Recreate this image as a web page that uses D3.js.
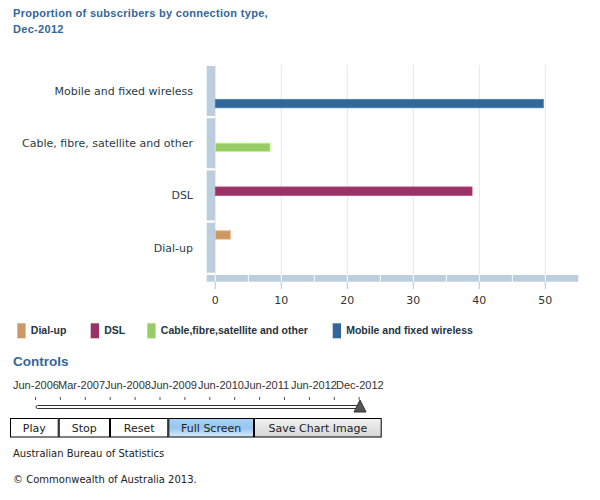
<!DOCTYPE html>
<html><head><meta charset="utf-8">
<script src="https://cdn.jsdelivr.net/npm/d3@7"></script>
<style>
body{margin:0;background:#fff;}
svg{display:block;}
</style></head>
<body>
<svg id="chart" width="600" height="500"></svg>
<script>
// ---- data ----
const titleLines = ["Proportion of subscribers by connection type,", "Dec-2012"];
const categories = ["Mobile and fixed wireless", "Cable, fibre, satellite and other", "DSL", "Dial-up"];
const series = ["Dial-up", "DSL", "Cable,fibre,satellite and other", "Mobile and fixed wireless"];
const seriesCategory = ["Dial-up", "DSL", "Cable, fibre, satellite and other", "Mobile and fixed wireless"];
const values = [2.3, 38.9, 8.3, 49.7];
const colors = ["#cc9966", "#993366", "#99cc66", "#336699"];
const xTicks = [0, 10, 20, 30, 40, 50];
const timeline = ["Jun-2006", "Mar-2007", "Jun-2008", "Jun-2009", "Jun-2010", "Jun-2011", "Jun-2012", "Dec-2012"];
const buttons = ["Play", "Stop", "Reset", "Full Screen", "Save Chart Image"];

const svg = d3.select("#chart");
const FONT = "'DejaVu Sans', Verdana, sans-serif";
const FONT2 = "'Liberation Sans', Arial, sans-serif";

// title
svg.selectAll("text.title").data(titleLines).join("text")
  .attr("x", 13).attr("y", (d, i) => 17 + i * 16)
  .attr("font-family", FONT2).attr("font-weight", "bold").attr("font-size", 11)
  .attr("letter-spacing", 0.3)
  .attr("fill", "#336699").text(d => d);

// scales
const x = d3.scaleLinear().domain([0, 55]).range([215.3, 578.3]);
const y = d3.scaleBand().domain(categories).range([66, 275]);
const sub = d3.scaleBand().domain(series).range([8, 8 + 4 * 8.45]);

// grid
svg.append("g").selectAll("line").data(xTicks).join("line")
  .attr("x1", d => x(d)).attr("x2", d => x(d))
  .attr("y1", 65).attr("y2", 275).attr("stroke", "#e6e6e6").attr("stroke-width", 1);

// left band segments
svg.append("g").selectAll("rect").data(categories).join("rect")
  .attr("x", 206.7).attr("width", 8.3)
  .attr("y", d => y(d)).attr("height", y.step() - 2.3)
  .attr("fill", "#bccddd");

// bottom axis band
svg.append("rect").attr("x", 206.7).attr("y", 275).attr("width", x(55) - 206.7).attr("height", 6.7).attr("fill", "#bccddd");
svg.append("g").selectAll("line").data(d3.range(0, 55, 5)).join("line")
  .attr("x1", d => x(d)).attr("x2", d => x(d)).attr("y1", 275).attr("y2", 281.7)
  .attr("stroke", "#fff").attr("stroke-width", 1);
// tick lines
svg.append("g").selectAll("line").data(xTicks).join("line")
  .attr("x1", d => x(d)).attr("x2", d => x(d)).attr("y1", 281.7).attr("y2", 289)
  .attr("stroke", "#b4c4d4").attr("stroke-width", 1);
svg.append("g").selectAll("text").data(xTicks).join("text")
  .attr("x", d => x(d)).attr("y", 304).attr("text-anchor", "middle")
  .attr("font-family", FONT).attr("font-size", 11).attr("fill", "#333")
  .text(d => d);

// category labels
svg.append("g").selectAll("text").data(categories).join("text")
  .attr("x", 193).attr("y", d => y(d) + y.step() / 2 - 1).attr("dy", "0.35em")
  .attr("text-anchor", "end").attr("font-family", FONT).attr("font-size", 11)
  .attr("fill", "#2b3c46").text(d => d);

// bars
svg.append("g").selectAll("rect").data(series).join("rect")
  .attr("x", x(0))
  .attr("y", (d, i) => y(seriesCategory[i]) + sub(d))
  .attr("width", (d, i) => x(values[i]) - x(0))
  .attr("height", sub.bandwidth())
  .attr("fill", (d, i) => colors[i])
  .attr("stroke", (d, i) => d3.color(colors[i]).brighter(0.6))
  .attr("stroke-width", 0.8);

// legend
const legX = [17.3, 90.7, 147.3, 332.7];
const lg = svg.append("g").selectAll("g").data(series).join("g")
  .attr("transform", (d, i) => `translate(${legX[i]},323.3)`);
lg.append("rect").attr("width", 8.3).attr("height", 15).attr("fill", (d, i) => colors[i]);
lg.append("text").attr("x", 13.5).attr("y", 7.5).attr("dy", "0.35em")
  .attr("font-family", FONT2).attr("font-weight", "bold").attr("font-size", 10.5)
  .attr("fill", "#1f3340").text(d => d);

// controls
svg.append("text").attr("x", 13).attr("y", 366).attr("font-family", FONT2)
  .attr("font-weight", "bold").attr("font-size", 13.5).attr("fill", "#336699").text("Controls");
const tlX = [13, 58, 105, 151, 198, 244, 291, 336];
svg.append("g").selectAll("text").data(timeline).join("text")
  .attr("x", (d, i) => tlX[i]).attr("y", 389)
  .attr("font-family", FONT2).attr("font-size", 11).attr("fill", "#333").text(d => d);
svg.append("g").selectAll("line").data(d3.range(14)).join("line")
  .attr("x1", d => 35.5 + d * 24.9).attr("x2", d => 35.5 + d * 24.9)
  .attr("y1", 397).attr("y2", 400).attr("stroke", "#555").attr("stroke-width", 1);
svg.append("rect").attr("x", 36).attr("y", 405.5).attr("width", 326).attr("height", 3)
  .attr("rx", 1.5).attr("fill", "#fff").attr("stroke", "#333").attr("stroke-width", 1);
svg.append("path").attr("d", "M360,400 L366,412 L354,412 Z").attr("fill", "#555").attr("stroke", "#333");

const defs = svg.append("defs");
const g1 = defs.append("linearGradient").attr("id", "blueG").attr("x1", 0).attr("y1", 0).attr("x2", 0).attr("y2", 1);
g1.append("stop").attr("offset", "0%").attr("stop-color", "#a9d2f5");
g1.append("stop").attr("offset", "50%").attr("stop-color", "#95c6f0");
g1.append("stop").attr("offset", "100%").attr("stop-color", "#dcecfb");
const g2 = defs.append("linearGradient").attr("id", "grayG").attr("x1", 0).attr("y1", 0).attr("x2", 0).attr("y2", 1);
g2.append("stop").attr("offset", "0%").attr("stop-color", "#f2f2f2");
g2.append("stop").attr("offset", "100%").attr("stop-color", "#d6d6d6");
const btnX = [10, 58.7, 110, 168.3, 254, 381.7];
const bg = svg.append("g").selectAll("g").data(buttons).join("g");
bg.append("rect").attr("x", (d, i) => btnX[i] + 0.5).attr("y", 418.5)
  .attr("width", (d, i) => btnX[i + 1] - btnX[i] - 1).attr("height", 18.5)
  .attr("fill", (d, i) => i === 3 ? "url(#blueG)" : i === 4 ? "url(#grayG)" : "#fff")
  .attr("stroke", "#000").attr("stroke-width", 1);
bg.append("text").attr("x", (d, i) => (btnX[i] + btnX[i + 1]) / 2).attr("y", 432)
  .attr("text-anchor", "middle").attr("font-family", FONT).attr("font-size", 11)
  .attr("fill", "#222").text(d => d);

svg.append("text").attr("x", 13).attr("y", 457).attr("font-family", FONT).attr("font-size", 10)
  .attr("fill", "#222").text("Australian Bureau of Statistics");
svg.append("text").attr("x", 13).attr("y", 483).attr("font-family", FONT).attr("font-size", 10)
  .attr("fill", "#222").text("© Commonwealth of Australia 2013.");
</script>
</body></html>
